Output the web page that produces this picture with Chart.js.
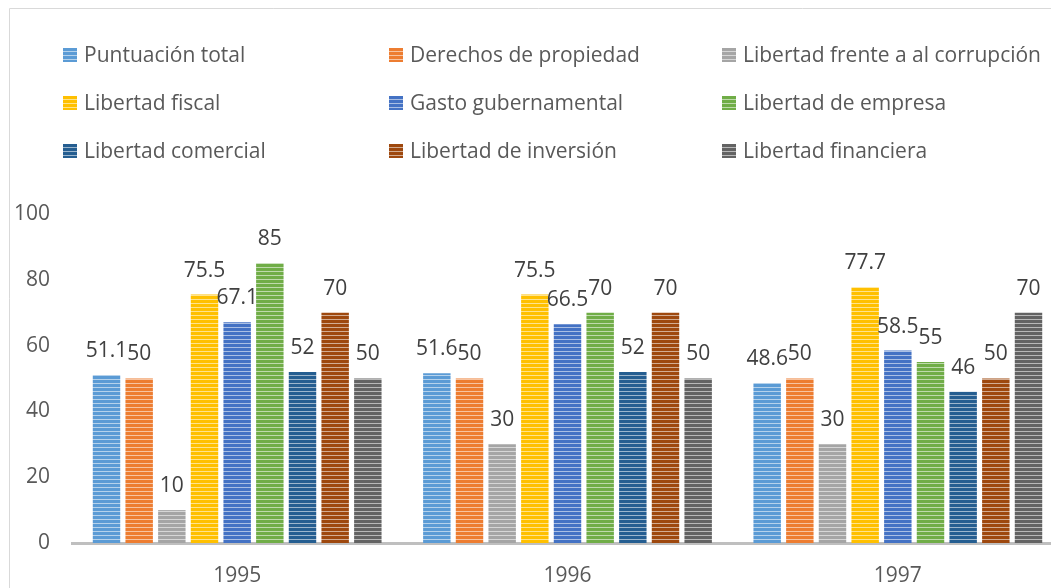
<!DOCTYPE html>
<html>
<head>
<meta charset="utf-8">
<script src="https://cdn.jsdelivr.net/npm/chart.js@4"></script>
<style>
  html, body { margin: 0; padding: 0; background: #fff; overflow: hidden; }
  #wrap { position: relative; width: 1066px; height: 588px; }
</style>
</head>
<body>
<div id="wrap"><canvas id="chart" width="1066" height="588"></canvas></div>
<script>
const years = ["1995", "1996", "1997"];
const seriesNames = [
  "Puntuación total", "Derechos de propiedad", "Libertad frente a al corrupción",
  "Libertad fiscal", "Gasto gubernamental", "Libertad de empresa",
  "Libertad comercial", "Libertad de inversión", "Libertad financiera"
];
const puntuacionTotal = [51.1, 51.6, 48.6];
const derechosPropiedad = [50, 50, 50];
const corrupcion = [10, 30, 30];
const libertadFiscal = [75.5, 75.5, 77.7];
const gastoGubernamental = [67.1, 66.5, 58.5];
const libertadEmpresa = [85, 70, 55];
const libertadComercial = [52, 52, 46];
const libertadInversion = [70, 70, 50];
const libertadFinanciera = [50, 50, 70];
const yTicks = [0, 20, 40, 60, 80, 100];

const allValues = [puntuacionTotal, derechosPropiedad, corrupcion, libertadFiscal,
  gastoGubernamental, libertadEmpresa, libertadComercial, libertadInversion, libertadFinanciera];
const colors = ["#5b9bd5", "#ed7d31", "#a5a5a5", "#ffc000", "#4472c4",
  "#70ad47", "#255e91", "#9e480e", "#636363"];

const FONT = "'Open Sans', sans-serif";

// horizontal stripes, like the office pattern fill
function stripes(color) {
  const c = document.createElement("canvas");
  c.width = 4; c.height = 4;
  const g = c.getContext("2d");
  g.fillStyle = color;
  g.fillRect(0, 0, 4, 4);
  g.fillStyle = "rgba(255,255,255,0.55)";
  g.fillRect(0, 3, 4, 1);
  return g.createPattern(c, "repeat");
}
const fills = colors.map(stripes);

// legend in 3 columns, drawn by hand
const legendGrid = {
  id: "legendGrid",
  afterDraw(chart) {
    const ctx = chart.ctx;
    const colX = [63, 389, 722];
    const rowY = [55, 103, 151];
    ctx.save();
    ctx.font = "21px " + FONT;
    ctx.textBaseline = "middle";
    seriesNames.forEach((name, i) => {
      const x = colX[i % 3], y = rowY[Math.floor(i / 3)];
      ctx.fillStyle = fills[i];
      ctx.fillRect(x, y - 7, 14, 14);
      ctx.fillStyle = "#595959";
      ctx.fillText(name, x + 21, y + 1);
    });
    ctx.restore();
  }
};

// value labels above bars
const barLabels = {
  id: "barLabels",
  afterDatasetsDraw(chart) {
    const ctx = chart.ctx;
    ctx.save();
    ctx.font = "21px " + FONT;
    ctx.fillStyle = "#404040";
    ctx.textAlign = "center";
    ctx.textBaseline = "middle";
    chart.data.datasets.forEach((ds, di) => {
      chart.getDatasetMeta(di).data.forEach((bar, i) => {
        ctx.fillText(String(ds.data[i]), bar.x, bar.y - 24);
      });
    });
    ctx.restore();
  }
};

// chart frame
const frame = {
  id: "frame",
  beforeDraw(chart) {
    const ctx = chart.ctx;
    ctx.save();
    ctx.strokeStyle = "#d9d9d9";
    ctx.lineWidth = 1;
    ctx.beginPath();
    ctx.moveTo(9.5, 600);
    ctx.lineTo(9.5, 8.5);
    ctx.lineTo(1100, 8.5);
    ctx.stroke();
    ctx.restore();
  }
};

new Chart(document.getElementById("chart"), {
  type: "bar",
  data: {
    labels: years,
    datasets: seriesNames.map((name, i) => ({
      label: name,
      data: allValues[i],
      backgroundColor: fills[i],
      borderWidth: 0,
      categoryPercentage: 0.89,
      barPercentage: 0.84
    }))
  },
  options: {
    responsive: false,
    animation: false,
    layout: { padding: { top: 214, right: 3, left: 0, bottom: 0 } },
    plugins: { legend: { display: false }, tooltip: { enabled: false } },
    scales: {
      x: {
        afterFit(scale) { scale.height = 45; },
        grid: { display: false, drawTicks: false },
        border: { display: true, color: "#bfbfbf", width: 3 },
        ticks: { color: "#595959", font: { family: FONT, size: 21 }, padding: 20 }
      },
      y: {
        min: 0,
        max: 100,
        afterBuildTicks(scale) { scale.ticks = yTicks.map((v) => ({ value: v })); },
        afterFit(scale) { scale.width = 72; },
        grid: { display: false, drawTicks: false },
        border: { display: false },
        ticks: { color: "#595959", font: { family: FONT, size: 21 }, padding: 22 }
      }
    }
  },
  plugins: [frame, legendGrid, barLabels]
});
</script>
</body>
</html>
